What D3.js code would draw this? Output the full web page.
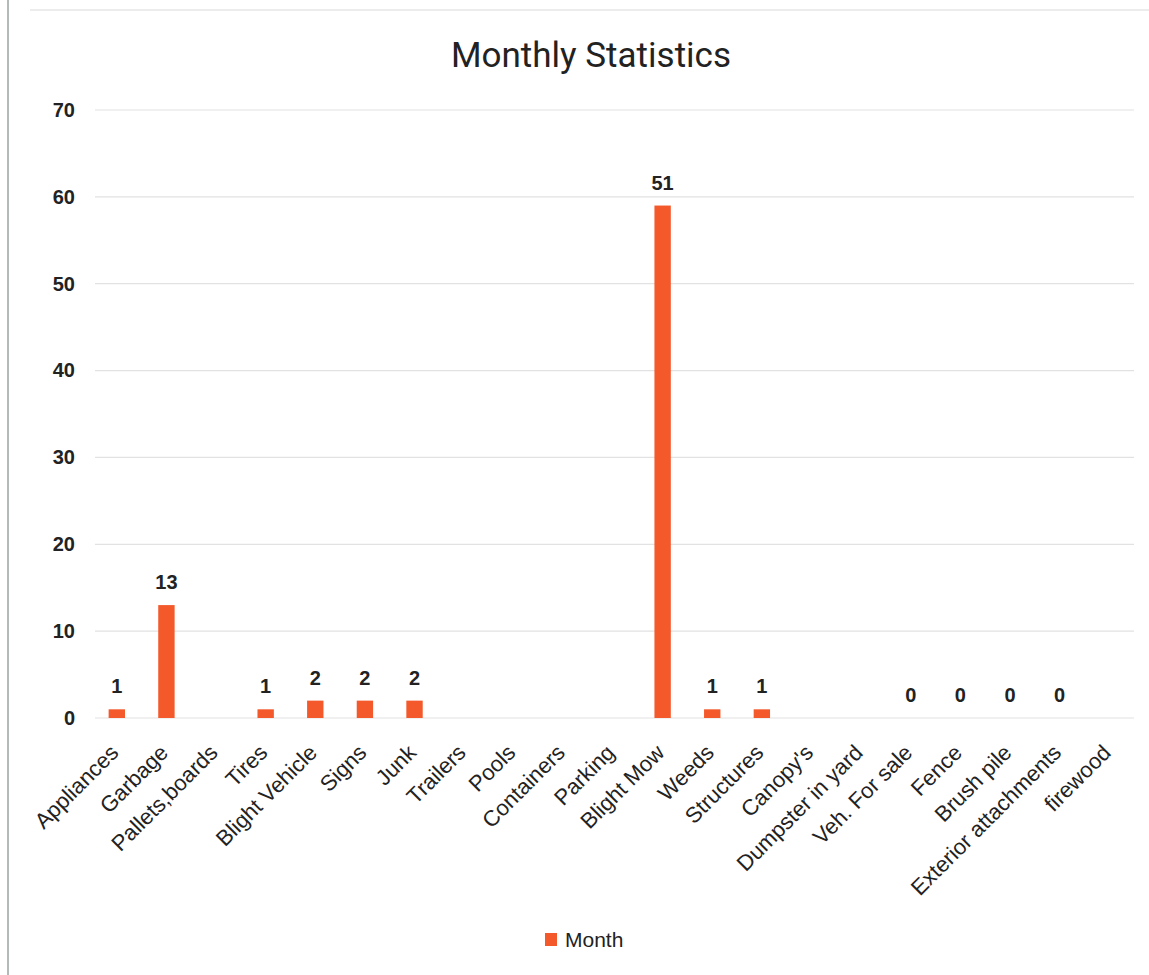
<!DOCTYPE html>
<html>
<head>
<meta charset="utf-8">
<script src="https://cdn.jsdelivr.net/npm/d3@7/dist/d3.min.js"></script>
<style>
  html, body { margin: 0; padding: 0; background: #fff; }
  svg { display: block; }
</style>
</head>
<body>
<svg id="chart" width="1149" height="975"></svg>
<script>
const categories = ["Appliances","Garbage","Pallets,boards","Tires","Blight Vehicle","Signs","Junk","Trailers","Pools","Containers","Parking","Blight Mow","Weeds","Structures","Canopy's","Dumpster in yard","Veh. For sale","Fence","Brush pile","Exterior attachments","firewood"];
const values = [1,13,null,1,2,2,2,null,null,null,null,59,1,1,null,null,0,0,0,0,null];
const dataLabels = ["1","13","","1","2","2","2","","","","","51","1","1","","","0","0","0","0",""];
const yTicks = [0,10,20,30,40,50,60,70];
const seriesName = "Month";
const title = "Monthly Statistics";

const svg = d3.select("#chart");
const W = 1149, H = 975;
const margin = {left: 92, right: 15, top: 110, bottom: 257};
const color = "#f4592b";
const font = "Liberation Sans, Arial, sans-serif";

// frame lines (scan border)
svg.append("line").attr("x1", 8).attr("x2", 8).attr("y1", 0).attr("y2", H)
  .attr("stroke", "#9aa5a0").attr("stroke-width", 1.5);
svg.append("line").attr("x1", 30).attr("x2", W).attr("y1", 10).attr("y2", 10)
  .attr("stroke", "#e6e6e6").attr("stroke-width", 1.5);

const x = d3.scaleBand().domain(categories).range([margin.left, W - margin.right]).paddingInner(0.67).paddingOuter(0.335);
const y = d3.scaleLinear().domain([0, 70]).range([H - margin.bottom, margin.top]);

// gridlines
svg.append("g").selectAll("line").data(yTicks).join("line")
  .attr("x1", margin.left + 3).attr("x2", W - margin.right)
  .attr("y1", d => y(d)).attr("y2", d => y(d))
  .attr("stroke", "#e2e2e2").attr("stroke-width", 1.2);

// y axis labels
const yAxis = d3.axisLeft(y).tickValues(yTicks).tickSize(0).tickPadding(0);
const gy = svg.append("g").attr("transform", `translate(${margin.left - 17},0)`).call(yAxis);
gy.select(".domain").remove();
gy.selectAll("text").attr("font-family", font)
  .attr("font-size", 20).attr("fill", "#222").attr("font-weight", 600);

// x axis labels
const xAxis = d3.axisBottom(x).tickSize(0).tickPadding(0);
const gx = svg.append("g").attr("transform", `translate(0,${y(0)})`).call(xAxis);
gx.select(".domain").remove();
gx.selectAll("text")
  .attr("font-family", font)
  .attr("font-size", 22).attr("fill", "#222")
  .attr("text-anchor", "end")
  .attr("dy", null)
  .attr("transform", "translate(3,36) rotate(-45)");

// bars
const data = categories.map((c, i) => ({c, v: values[i], label: dataLabels[i]}));
svg.append("g").selectAll("rect").data(data.filter(d => d.v !== null && d.v > 0)).join("rect")
  .attr("x", d => x(d.c)).attr("width", x.bandwidth())
  .attr("y", d => y(d.v)).attr("height", d => y(0) - y(d.v))
  .attr("fill", color);

// data labels
svg.append("g").selectAll("text").data(data.filter(d => d.label !== "")).join("text")
  .attr("x", d => x(d.c) + x.bandwidth() / 2)
  .attr("y", d => y(d.v) - 16)
  .attr("text-anchor", "middle")
  .attr("font-family", font)
  .attr("font-size", 20).attr("fill", "#222").attr("font-weight", 600)
  .text(d => d.label);

// title
svg.append("text").attr("x", 591).attr("y", 67).attr("text-anchor", "middle")
  .attr("font-family", "Roboto, sans-serif").attr("font-size", 35).attr("fill", "#222")
  .text(title);

// legend
const lg = svg.append("g").attr("transform", "translate(545,933)");
lg.append("rect").attr("width", 12).attr("height", 13).attr("fill", color);
lg.append("text").attr("x", 20).attr("y", 14).attr("font-family", font)
  .attr("font-size", 21).attr("fill", "#222").text(seriesName);
</script>
</body>
</html>
